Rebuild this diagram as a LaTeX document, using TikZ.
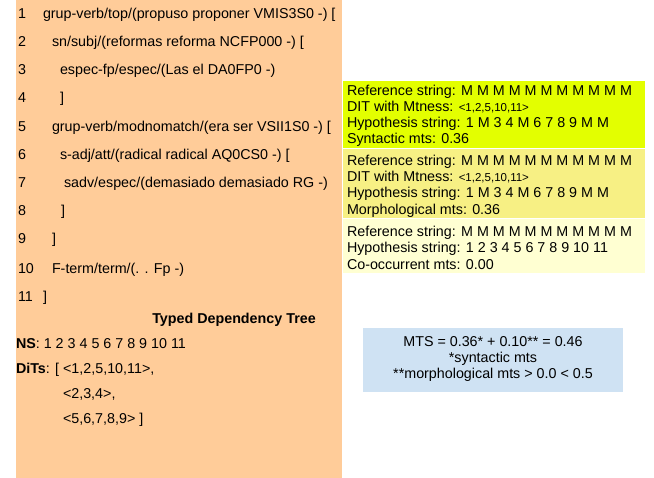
\documentclass[tikz,border=0pt]{standalone}
\usepackage{fontspec}
\setmainfont{Liberation Sans}
\definecolor{peach}{HTML}{FFCC99}
\definecolor{limeY}{HTML}{E3FF00}
\definecolor{softY}{HTML}{F7F084}
\definecolor{paleY}{HTML}{FFFFD2}
\definecolor{skyB}{HTML}{CFE2F3}
\newcommand{\smalltxt}{\fontsize{11.5bp}{13bp}\selectfont}
\begin{document}
\begin{tikzpicture}[x=1bp,y=-1bp,
  every node/.style={inner sep=0pt,outer sep=0pt,anchor=base west,
    font=\fontsize{14.3bp}{16.5bp}\selectfont},
  ctr/.style={anchor=base}]
\useasboundingbox (0,0) rectangle (654,478);
% backgrounds
\fill[peach] (16,0) rectangle (342,478);
\fill[limeY] (343,81) rectangle (645,148);
\fill[softY] (343,149) rectangle (645,218);
\fill[paleY] (343,219) rectangle (645,273);
\fill[skyB] (363,328) rectangle (623,392);
% left: numbered lines
\node (n1) at (18,19) {1};
\node (t1) at (43,19) {grup-verb/top/(propuso proponer VMIS3S0 -) [};
\node (n2) at (18,47) {2};
\node (t2) at (52,47) {sn/subj/(reformas reforma NCFP000 -) [};
\node (n3) at (18,75) {3};
\node (t3) at (60,75) {espec-fp/espec/(Las el DA0FP0 -)};
\node (n4) at (18,103) {4};
\node (t4) at (60,103) {]};
\node (n5) at (18,132) {5};
\node (t5) at (52,132) {grup-verb/modnomatch/(era ser VSII1S0 -) [};
\node (n6) at (18,160) {6};
\node (t6) at (60,160) {s-adj/att/(radical radical AQ0CS0 -) [};
\node (n7) at (18,188) {7};
\node (t7) at (64,188) {sadv/espec/(demasiado demasiado RG -)};
\node (n8) at (18,216) {8};
\node (t8) at (61,216) {]};
\node (n9) at (18,244) {9};
\node (t9) at (52,244) {]};
\node (n10) at (18,273) {10};
\node (t10) at (52,273) {F-term/term/(. . Fp -)};
\node (n11) at (18,301) {11};
\node (t11) at (43,301) {]};
\node[ctr] (tdt) at (234,323) {\bfseries Typed Dependency Tree};
\node (ns) at (16,348) {\textbf{NS}: 1 2 3 4 5 6 7 8 9 10 11};
\node (dits) at (16,373) {\textbf{DiTs}: [ <1,2,5,10,11>,};
\node (d2) at (63,398) {<2,3,4>,};
\node (d3) at (63,423) {<5,6,7,8,9> ]};
% right box 1
\node (a1) at (347,96) {Reference string: M M M M M M M M M M M};
\node (a2) at (347,112) {DIT with Mtness: {\smalltxt <1,2,5,10,11>}};
\node (a3) at (347,128) {Hypothesis string: 1 M 3 4 M 6 7 8 9 M M};
\node (a4) at (347,144) {Syntactic mts: 0.36};
% right box 2
\node (b1) at (347,166) {Reference string: M M M M M M M M M M M};
\node (b2) at (347,182) {DIT with Mtness: {\smalltxt <1,2,5,10,11>}};
\node (b3) at (347,198) {Hypothesis string: 1 M 3 4 M 6 7 8 9 M M};
\node (b4) at (347,215) {Morphological mts: 0.36};
% right box 3
\node (c1) at (347,237) {Reference string: M M M M M M M M M M M};
\node (c2) at (347,253) {Hypothesis string: 1 2 3 4 5 6 7 8 9 10 11};
\node (c3) at (347,269) {Co-occurrent mts: 0.00};
% blue box
\node[ctr] (m1) at (493,346) {MTS = 0.36* + 0.10** = 0.46};
\node[ctr] (m2) at (493,362) {*syntactic mts};
\node[ctr] (m3) at (493,378) {**morphological mts > 0.0 < 0.5};
\end{tikzpicture}
\end{document}
